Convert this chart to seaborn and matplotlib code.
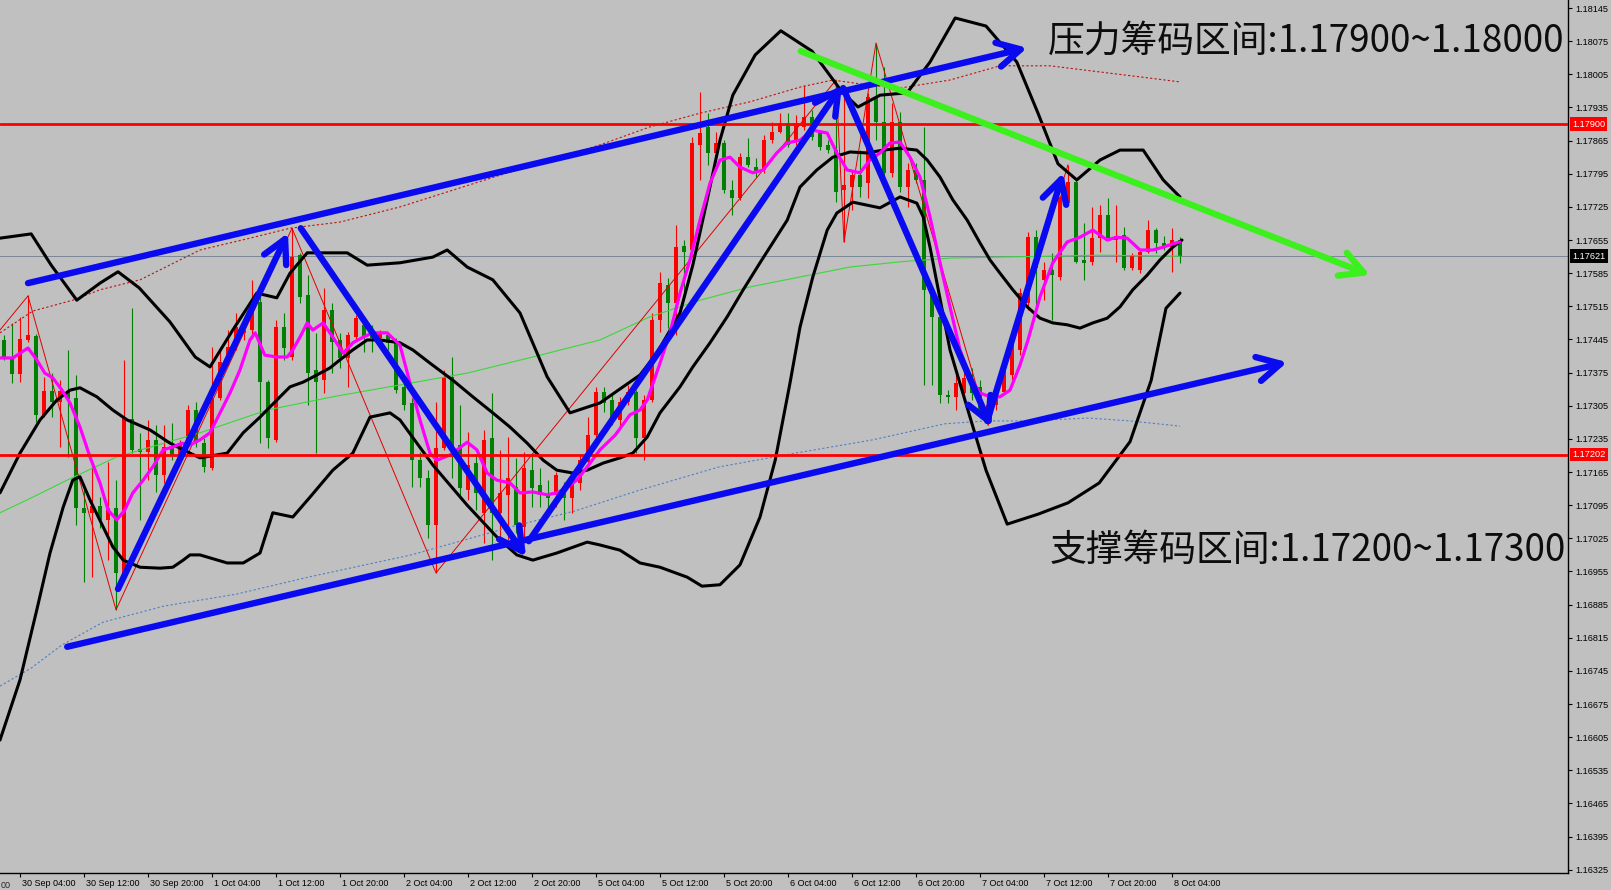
import matplotlib
matplotlib.use("Agg")
import matplotlib.pyplot as plt
import matplotlib.transforms as mtransforms
import numpy as np
import pandas as pd
import seaborn as sns

sns.set_theme(style="white")
plt.rcParams["font.family"] = ["Noto Sans CJK SC", "DejaVu Sans"]

BG = "#c0c0c0"
UP_COLOR = "#ff0000"
DOWN_COLOR = "#008000"

# hourly candles, EURUSD H1, 30 Sep 02:00 -> 8 Oct 05:00
OPEN = [
    1.17444, 1.17408, 1.17372, 1.17444, 1.17452, 1.17286, 1.17336, 1.17313, 1.17336, 1.17321,
    1.17089, 1.17079, 1.17093, 1.17064, 1.17089, 1.16952, 1.17277, 1.17214, 1.17207, 1.17233,
    1.17159, 1.17220, 1.17201, 1.17226, 1.17296, 1.17226, 1.17174, 1.17321, 1.17397, 1.17429,
    1.17459, 1.17465, 1.17524, 1.17355, 1.17233, 1.17471, 1.17408, 1.17623, 1.17539, 1.17381,
    1.17359, 1.17507, 1.17444, 1.17406, 1.17450, 1.17476, 1.17465, 1.17448, 1.17454, 1.17438,
    1.17345, 1.17311, 1.17190, 1.17152, 1.17053, 1.17216, 1.17366, 1.17222, 1.17127, 1.17184,
    1.17079, 1.17237, 1.17079, 1.17117, 1.17133, 1.17049, 1.17169, 1.17138, 1.17117, 1.17117,
    1.17121, 1.17110, 1.17142, 1.17186, 1.17243, 1.17334, 1.17317, 1.17275, 1.17313, 1.17334,
    1.17237, 1.17317, 1.17486, 1.17560, 1.17522, 1.17642, 1.17634, 1.17856, 1.17894, 1.17839,
    1.17860, 1.17761, 1.17744, 1.17830, 1.17809, 1.17803, 1.17866, 1.17883, 1.17902, 1.17866,
    1.17894, 1.17915, 1.17881, 1.17856, 1.17845, 1.17761, 1.17767, 1.17792, 1.17776, 1.17955,
    1.17904, 1.17797, 1.17904, 1.17767, 1.17803, 1.17782, 1.17550, 1.17492, 1.17328, 1.17324,
    1.17332, 1.17359, 1.17345, 1.17286, 1.17307, 1.17334, 1.17370, 1.17423, 1.17522, 1.17661,
    1.17571, 1.17592, 1.17577, 1.17733, 1.17778, 1.17613, 1.17609, 1.17659, 1.17708, 1.17655,
    1.17666, 1.17596, 1.17592, 1.17630, 1.17676, 1.17649, 1.17640, 1.17655,
]
HIGH = [
    1.17454, 1.17480, 1.17492, 1.17539, 1.17457, 1.17366, 1.17374, 1.17359, 1.17423, 1.17370,
    1.17133, 1.17180, 1.17112, 1.17186, 1.17148, 1.17402, 1.17512, 1.17248, 1.17275, 1.17264,
    1.17264, 1.17269, 1.17233, 1.17307, 1.17313, 1.17237, 1.17429, 1.17423, 1.17465, 1.17501,
    1.17490, 1.17571, 1.17543, 1.17359, 1.17486, 1.17501, 1.17680, 1.17628, 1.17581, 1.17459,
    1.17554, 1.17522, 1.17459, 1.17461, 1.17497, 1.17490, 1.17476, 1.17465, 1.17459, 1.17448,
    1.17353, 1.17321, 1.17207, 1.17169, 1.17313, 1.17381, 1.17408, 1.17307, 1.17250, 1.17201,
    1.17254, 1.17332, 1.17212, 1.17239, 1.17195, 1.17207, 1.17205, 1.17174, 1.17148, 1.17165,
    1.17144, 1.17163, 1.17201, 1.17281, 1.17345, 1.17345, 1.17332, 1.17324, 1.17349, 1.17338,
    1.17328, 1.17501, 1.17588, 1.17575, 1.17687, 1.17655, 1.17873, 1.17968, 1.17923, 1.17883,
    1.17866, 1.17782, 1.17839, 1.17871, 1.17828, 1.17877, 1.17904, 1.17923, 1.17923, 1.17919,
    1.17982, 1.17930, 1.17887, 1.17866, 1.17993, 1.17978, 1.17803, 1.17845, 1.17966, 1.18071,
    1.18020, 1.17944, 1.17925, 1.17818, 1.17818, 1.17894, 1.17554, 1.17501, 1.17338, 1.17374,
    1.17397, 1.17385, 1.17359, 1.17317, 1.17349, 1.17402, 1.17444, 1.17554, 1.17672, 1.17676,
    1.17609, 1.17628, 1.17750, 1.17814, 1.17782, 1.17691, 1.17725, 1.17729, 1.17744, 1.17729,
    1.17683, 1.17628, 1.17634, 1.17697, 1.17680, 1.17664, 1.17680, 1.17661,
]
LOW = [
    1.17402, 1.17353, 1.17355, 1.17440, 1.17271, 1.17281, 1.17281, 1.17218, 1.17197, 1.17053,
    1.16933, 1.16943, 1.17047, 1.16979, 1.16874, 1.16937, 1.17205, 1.17064, 1.17148, 1.17123,
    1.17142, 1.17190, 1.17190, 1.17218, 1.17218, 1.17165, 1.17169, 1.17317, 1.17391, 1.17423,
    1.17444, 1.17454, 1.17226, 1.17216, 1.17228, 1.17402, 1.17402, 1.17522, 1.17307, 1.17205,
    1.17332, 1.17374, 1.17385, 1.17345, 1.17444, 1.17419, 1.17419, 1.17433, 1.17423, 1.17332,
    1.17296, 1.17133, 1.17133, 1.17026, 1.16952, 1.17212, 1.17152, 1.17110, 1.17106, 1.17085,
    1.17015, 1.16979, 1.17017, 1.17022, 1.17036, 1.17028, 1.17091, 1.17091, 1.17085, 1.17091,
    1.17064, 1.17079, 1.17127, 1.17184, 1.17239, 1.17292, 1.17264, 1.17258, 1.17307, 1.17205,
    1.17190, 1.17313, 1.17461, 1.17469, 1.17454, 1.17543, 1.17630, 1.17782, 1.17814, 1.17830,
    1.17754, 1.17708, 1.17740, 1.17809, 1.17788, 1.17797, 1.17860, 1.17881, 1.17852, 1.17856,
    1.17887, 1.17866, 1.17845, 1.17839, 1.17735, 1.17651, 1.17718, 1.17746, 1.17744, 1.17866,
    1.17782, 1.17788, 1.17756, 1.17725, 1.17776, 1.17349, 1.17349, 1.17311, 1.17311, 1.17296,
    1.17317, 1.17317, 1.17279, 1.17264, 1.17296, 1.17328, 1.17359, 1.17412, 1.17507, 1.17507,
    1.17528, 1.17486, 1.17571, 1.17729, 1.17607, 1.17571, 1.17602, 1.17630, 1.17655, 1.17609,
    1.17592, 1.17592, 1.17585, 1.17628, 1.17628, 1.17634, 1.17588, 1.17607,
]
CLOSE = [
    1.17408, 1.17372, 1.17446, 1.17454, 1.17286, 1.17336, 1.17313, 1.17336, 1.17319, 1.17089,
    1.17079, 1.17093, 1.17064, 1.17089, 1.16952, 1.17279, 1.17212, 1.17207, 1.17233, 1.17159,
    1.17218, 1.17201, 1.17226, 1.17296, 1.17226, 1.17176, 1.17321, 1.17397, 1.17429, 1.17471,
    1.17469, 1.17522, 1.17355, 1.17237, 1.17471, 1.17427, 1.17619, 1.17535, 1.17374, 1.17355,
    1.17507, 1.17440, 1.17406, 1.17454, 1.17490, 1.17450, 1.17448, 1.17459, 1.17438, 1.17338,
    1.17307, 1.17190, 1.17152, 1.17053, 1.17216, 1.17366, 1.17218, 1.17131, 1.17180, 1.17121,
    1.17233, 1.17079, 1.17121, 1.17152, 1.17053, 1.17174, 1.17131, 1.17117, 1.17110, 1.17159,
    1.17110, 1.17155, 1.17190, 1.17243, 1.17334, 1.17311, 1.17275, 1.17313, 1.17334, 1.17237,
    1.17317, 1.17486, 1.17564, 1.17522, 1.17640, 1.17630, 1.17860, 1.17881, 1.17839, 1.17860,
    1.17761, 1.17744, 1.17830, 1.17814, 1.17797, 1.17866, 1.17883, 1.17902, 1.17856, 1.17902,
    1.17915, 1.17873, 1.17852, 1.17845, 1.17756, 1.17771, 1.17792, 1.17767, 1.17957, 1.17904,
    1.17797, 1.17904, 1.17767, 1.17803, 1.17782, 1.17550, 1.17492, 1.17328, 1.17324, 1.17353,
    1.17364, 1.17332, 1.17290, 1.17307, 1.17338, 1.17381, 1.17433, 1.17543, 1.17661, 1.17596,
    1.17592, 1.17581, 1.17746, 1.17778, 1.17609, 1.17607, 1.17659, 1.17708, 1.17659, 1.17664,
    1.17596, 1.17621, 1.17630, 1.17676, 1.17649, 1.17640, 1.17655, 1.17621,
]

# indicator lines (bar position, price)
BB_UP_X = [-0.5, 3.4, 5.9, 9.1, 12.0, 14.25, 16.9, 20.75, 23.9, 25.75, 28.6, 31.6, 34.1, 35.75,
           37.9, 42.9, 45.4, 49.5, 53.6, 55.4, 57.9, 61.1, 64.5, 67.9, 70.75, 74.5, 79.5, 81.6,
           84.5, 86.1, 87.9, 89.5, 91.1, 93.9, 97.1, 101.0, 104.75, 106.75, 109.5, 112.9, 115.75,
           118.9, 122.75, 126.6, 129.25, 131.75, 134.1, 137.0, 139.5, 142.4, 144.9, 147.0]
BB_UP_Y = [1.17659, 1.17668, 1.17602, 1.17528, 1.17564, 1.17588, 1.17554, 1.17482, 1.17408,
           1.17387, 1.17465, 1.17543, 1.17533, 1.17585, 1.17628, 1.17628, 1.17602, 1.17607,
           1.17619, 1.17634, 1.17598, 1.17571, 1.17501, 1.17366, 1.17290, 1.17311, 1.17370,
           1.17416, 1.17501, 1.17602, 1.17740, 1.17866, 1.17961, 1.18046, 1.18097, 1.18054,
           1.17968, 1.17936, 1.17961, 1.17966, 1.18031, 1.18124, 1.18107, 1.18031, 1.17923,
           1.17816, 1.17782, 1.17824, 1.17845, 1.17845, 1.17782, 1.17746]

BB_MID_X = [-0.5, 2.0, 4.5, 6.6, 8.25, 9.5, 11.6, 13.6, 15.4, 18.25, 20.75, 23.25, 24.5, 27.9,
            29.9, 32.0, 34.1, 35.75, 37.4, 39.1, 40.75, 42.0, 43.6, 45.4, 47.0, 49.5, 51.1, 53.25,
            56.1, 58.6, 61.1, 63.25, 65.4, 67.4, 69.1, 71.1, 72.9, 74.9, 77.0, 78.6, 80.4, 82.0,
            84.5, 86.1, 88.25, 90.4, 92.4, 94.5, 97.9, 99.5, 101.6, 103.6, 105.75, 107.9, 109.9,
            112.0, 114.1, 115.4, 117.0, 118.6, 120.4, 122.0, 123.25, 124.5, 126.1, 127.9, 129.5,
            131.1, 132.9, 134.5, 136.1, 137.9, 139.5, 141.1, 142.9, 144.5, 146.1, 147.25]
BB_MID_Y = [1.17121, 1.17205, 1.17275, 1.17317, 1.17338, 1.17343, 1.17324, 1.17296, 1.17275,
            1.17254, 1.17226, 1.17205, 1.17195, 1.17205, 1.17248, 1.17281, 1.17317, 1.17345,
            1.17355, 1.17370, 1.17385, 1.17402, 1.17423, 1.17444, 1.17444, 1.17438, 1.17423,
            1.17395, 1.17359, 1.17324, 1.17290, 1.17260, 1.17226, 1.17190, 1.17169, 1.17163,
            1.17169, 1.17184, 1.17195, 1.17205, 1.17239, 1.17290, 1.17345, 1.17387, 1.17438,
            1.17493, 1.17550, 1.17607, 1.17697, 1.17767, 1.17803, 1.17830, 1.17841, 1.17839,
            1.17845, 1.17849, 1.17845, 1.17824, 1.17788, 1.17740, 1.17697, 1.17649, 1.17613,
            1.17585, 1.17550, 1.17514, 1.17490, 1.17480, 1.17476, 1.17469, 1.17480, 1.17490,
            1.17514, 1.17550, 1.17581, 1.17613, 1.17640, 1.17655]

BB_LOW_X = [-0.5, 2.0, 4.1, 5.75, 7.4, 8.6, 9.5, 10.75, 12.4, 13.6, 14.9, 17.0, 19.5, 21.1, 22.4,
            23.25, 24.5, 27.9, 29.9, 32.0, 33.6, 36.1, 38.25, 41.1, 43.6, 45.75, 48.25, 49.5,
            53.6, 57.9, 61.6, 64.1, 66.1, 69.1, 72.9, 74.5, 77.0, 79.5, 82.0, 85.4, 87.25, 89.5,
            92.0, 94.5, 96.4, 98.25, 99.5, 101.1, 102.9, 104.1, 106.1, 109.5, 112.0, 114.1,
            114.9, 115.75, 118.25, 120.75, 122.75, 125.4, 129.25, 133.0, 136.9, 140.75, 143.4,
            145.25, 147.0]
BB_LOW_Y = [1.16599, 1.16726, 1.16874, 1.16994, 1.17091, 1.17148, 1.17155, 1.17106, 1.17049,
            1.17007, 1.16979, 1.16964, 1.16962, 1.16964, 1.16979, 1.16990, 1.16990, 1.16973,
            1.16973, 1.16994, 1.17079, 1.17070, 1.17112, 1.17169, 1.17205, 1.17281, 1.17290,
            1.17275, 1.17180, 1.17095, 1.17028, 1.16990, 1.16979, 1.16994, 1.17017, 1.17011,
            1.17000, 1.16973, 1.16964, 1.16943, 1.16924, 1.16927, 1.16969, 1.17070, 1.17190,
            1.17353, 1.17471, 1.17577, 1.17676, 1.17712, 1.17735, 1.17723, 1.17746, 1.17733,
            1.17704, 1.17640, 1.17423, 1.17281, 1.17169, 1.17055, 1.17076, 1.17100, 1.17142,
            1.17229, 1.17359, 1.17511, 1.17543]

FAST_MA_X = [-0.5, 1.1, 3.0, 4.1, 5.1, 6.1, 7.25, 8.25, 9.5, 10.75, 12.0, 13.0, 14.1, 15.1, 16.1,
             17.4, 18.6, 19.9, 21.1, 22.25, 23.25, 24.5, 25.75, 27.0, 28.25, 29.5, 30.75, 31.4,
             32.6, 34.1, 35.4, 36.1, 37.0, 37.9, 38.6, 39.9, 41.1, 42.4, 43.6, 44.9, 46.1, 47.9,
             49.5, 50.75, 52.0, 53.25, 54.1, 55.75, 57.9, 59.1, 60.4, 61.6, 63.25, 64.5, 66.1,
             67.9, 69.1, 70.4, 71.6, 72.9, 74.5, 76.4, 78.25, 79.5, 80.4, 82.0, 83.25, 84.5,
             85.75, 87.0, 88.25, 89.5, 90.75, 92.0, 93.6, 94.9, 96.6, 97.9, 99.5, 101.1, 102.9,
             104.1, 105.4, 107.0, 108.25, 109.5, 110.75, 112.0, 113.25, 114.5, 115.75, 117.0,
             118.25, 119.5, 120.75, 122.0, 123.25, 124.5, 125.75, 127.0, 128.0, 129.5, 131.1,
             132.9, 134.5, 136.1, 137.9, 139.1, 140.4, 142.0, 143.6, 144.9, 146.1, 147.0]
FAST_MA_Y = [1.17406, 1.17406, 1.17427, 1.17402, 1.17374, 1.17364, 1.17338, 1.17311, 1.17260,
             1.17197, 1.17142, 1.17085, 1.17064, 1.17085, 1.17121, 1.17148, 1.17176, 1.17212,
             1.17218, 1.17226, 1.17222, 1.17233, 1.17248, 1.17290, 1.17332, 1.17381, 1.17444,
             1.17459, 1.17412, 1.17408, 1.17408, 1.17423, 1.17450, 1.17480, 1.17465, 1.17480,
             1.17450, 1.17416, 1.17438, 1.17450, 1.17459, 1.17459, 1.17433, 1.17353, 1.17275,
             1.17205, 1.17190, 1.17201, 1.17228, 1.17212, 1.17163, 1.17148, 1.17142, 1.17121,
             1.17123, 1.17117, 1.17121, 1.17133, 1.17148, 1.17176, 1.17212, 1.17243, 1.17286,
             1.17296, 1.17317, 1.17395, 1.17459, 1.17543, 1.17613, 1.17697, 1.17775, 1.17824,
             1.17830, 1.17809, 1.17797, 1.17803, 1.17839, 1.17860, 1.17866, 1.17887, 1.17881,
             1.17839, 1.17803, 1.17797, 1.17824, 1.17839, 1.17860, 1.17862, 1.17830, 1.17788,
             1.17704, 1.17607, 1.17514, 1.17423, 1.17366, 1.17332, 1.17324, 1.17324, 1.17338,
             1.17391, 1.17444, 1.17535, 1.17607, 1.17651, 1.17661, 1.17676, 1.17655, 1.17661,
             1.17659, 1.17634, 1.17634, 1.17640, 1.17647, 1.17651]

SLOW_MA_X = [-0.5, 3.6, 7.9, 14.1, 24.5, 32.9, 41.1, 49.5, 57.9, 66.1, 74.5, 80.75, 87.0, 93.25,
             99.5, 105.75, 112.0, 118.25, 124.5, 137.0, 147.0]
SLOW_MA_Y = [1.17079, 1.17112, 1.17148, 1.17197, 1.17248, 1.17296, 1.17324, 1.17349, 1.17374,
             1.17408, 1.17444, 1.17493, 1.17528, 1.17556, 1.17577, 1.17598, 1.17609, 1.17617,
             1.17619, 1.17623, 1.17621]

ENV_UP_X = [-0.5, 3.6, 8.6, 12.0, 17.0, 24.5, 30.75, 35.75, 42.0, 49.5, 62.0, 74.5, 80.75, 87.0,
            93.25, 99.5, 103.6, 108.25, 112.0, 118.25, 124.5, 130.75, 137.0, 143.25, 147.0]
ENV_UP_Y = [1.17459, 1.17505, 1.17528, 1.17550, 1.17571, 1.17634, 1.17659, 1.17680, 1.17693,
            1.17725, 1.17792, 1.17856, 1.17894, 1.17923, 1.17947, 1.17978, 1.17993, 1.17982,
            1.17976, 1.17993, 1.18023, 1.18023, 1.18010, 1.17997, 1.17989]

ENV_LOW_X = [-0.5, 3.4, 7.25, 12.4, 20.0, 29.0, 38.0, 50.9, 63.75, 71.4, 79.1, 89.4, 99.6, 108.6,
             117.6, 122.75, 127.9, 135.6, 140.75, 147.0]
ENV_LOW_Y = [1.16713, 1.16751, 1.16800, 1.16848, 1.16882, 1.16907, 1.16943, 1.16990, 1.17051,
             1.17083, 1.17125, 1.17176, 1.17207, 1.17233, 1.17267, 1.17273, 1.17273, 1.17279,
             1.17273, 1.17262]

ZIGZAG_X = [-0.5, 3.0, 14.0, 36.0, 54.0, 104.0, 105.0, 109.0, 123.0, 133.0]
ZIGZAG_Y = [1.17465, 1.17537, 1.16874, 1.17680, 1.16952, 1.17993, 1.17651, 1.18071, 1.17264, 1.17814]

RESIST_LEVEL = 1.17900
SUPPORT_LEVEL = 1.17202
LAST_PRICE = 1.17621

# hand-drawn arrows: (tail bar, tail price, head bar, head price)
BLUE_ARROWS = [
    (3.0, 1.17564, 127.9, 1.18061),
    (7.9, 1.16796, 160.4, 1.17397),
    (14.25, 1.16918, 35.5, 1.17670),
    (37.1, 1.17680, 65.25, 1.16986),
    (65.6, 1.17019, 104.75, 1.17982),
    (104.9, 1.17976, 123.4, 1.17260),
    (122.9, 1.17273, 132.4, 1.17797),
]
GREEN_ARROW = (99.6, 1.18054, 170.75, 1.17581)

Y_TICKS = [round(1.18145 - 0.0007 * k, 5) for k in range(27)]
X_TICK_BARS = [2 + 8 * k for k in range(19)]
X_TICK_LABELS = [
    "30 Sep 04:00", "30 Sep 12:00", "30 Sep 20:00", "1 Oct 04:00", "1 Oct 12:00",
    "1 Oct 20:00", "2 Oct 04:00", "2 Oct 12:00", "2 Oct 20:00", "5 Oct 04:00",
    "5 Oct 12:00", "5 Oct 20:00", "6 Oct 04:00", "6 Oct 12:00", "6 Oct 20:00",
    "7 Oct 04:00", "7 Oct 12:00", "7 Oct 20:00", "8 Oct 04:00",
]

W, H = 1611, 890
fig = plt.figure(figsize=(W / 100, H / 100), dpi=100, facecolor=BG)
ax = fig.add_axes([0, 17 / H, 1568 / W, 873 / H], facecolor=BG)

df = pd.DataFrame({"bar": np.arange(len(OPEN)), "open": OPEN, "high": HIGH,
                   "low": LOW, "close": CLOSE})
df["rise"] = df["close"] >= df["open"]

for rise, color in [(True, UP_COLOR), (False, DOWN_COLOR)]:
    sub = df[df["rise"] == rise]
    ax.vlines(sub["bar"], sub["low"], sub["high"], color=color, lw=0.8, zorder=2)
    body = (sub["close"] - sub["open"]).abs().clip(lower=0.00002)
    ax.bar(sub["bar"], body, bottom=sub[["open", "close"]].min(axis=1),
           width=0.62, color=color, lw=0, zorder=3)


def line(xs, ys, color, lw, z, ls="-"):
    sns.lineplot(x=xs, y=ys, ax=ax, color=color, lw=lw, linestyle=ls, sort=False,
                 estimator=None, zorder=z, legend=False)


ax.axhline(LAST_PRICE, color="#7a8796", lw=0.7, zorder=1.5)
line(SLOW_MA_X, SLOW_MA_Y, "#3ad83a", 0.8, 4)
line(ENV_UP_X, ENV_UP_Y, "#c01010", 0.8, 4, (0, (2, 2)))
line(ENV_LOW_X, ENV_LOW_Y, "#4f7fc8", 0.8, 4, (0, (2, 2)))
line(ZIGZAG_X, ZIGZAG_Y, "#e00000", 0.7, 4)
for xs, ys in [(BB_UP_X, BB_UP_Y), (BB_MID_X, BB_MID_Y), (BB_LOW_X, BB_LOW_Y)]:
    line(xs, ys, "black", 2.2, 5)
line(FAST_MA_X, FAST_MA_Y, "#ff00ff", 2.3, 6)

ax.axhline(RESIST_LEVEL, color="#ff0000", lw=2.0, zorder=7)
ax.axhline(SUPPORT_LEVEL, color="#ff0000", lw=2.0, zorder=7)

arrow_style = "->,head_length=0.75,head_width=0.4"
for x0, y0, x1, y1 in BLUE_ARROWS:
    ax.annotate("", xy=(x1, y1), xytext=(x0, y0),
                arrowprops=dict(arrowstyle=arrow_style, color="#0a0af0", lw=4.6,
                                shrinkA=0, shrinkB=0, mutation_scale=22),
                zorder=8, annotation_clip=False)
gx0, gy0, gx1, gy1 = GREEN_ARROW
ax.annotate("", xy=(gx1, gy1), xytext=(gx0, gy0),
            arrowprops=dict(arrowstyle=arrow_style, color="#3cf01e", lw=4.6,
                            shrinkA=0, shrinkB=0, mutation_scale=22),
            zorder=8, annotation_clip=False)

ax.set_xlim(-0.5, 195.5)
ax.set_ylim(1.163182, 1.18162)

# axes / ticks like the terminal
for side in ["top", "left"]:
    ax.spines[side].set_visible(False)
for side in ["right", "bottom"]:
    ax.spines[side].set_color("black")
    ax.spines[side].set_linewidth(1.0)

ax.yaxis.tick_right()
ax.set_yticks(Y_TICKS)
ax.set_yticklabels([f"{v:.5f}" for v in Y_TICKS])
ax.tick_params(axis="y", direction="out", length=3, width=0.8, pad=2,
               labelsize=6.6, colors="black", right=True, left=False)
ax.set_xticks(X_TICK_BARS)
ax.set_xticklabels(X_TICK_LABELS)
ax.tick_params(axis="x", direction="out", length=3, width=0.8, pad=1.5,
               labelsize=6.5, colors="black", bottom=True)
shift = mtransforms.ScaledTranslation(2 / 100, 0, fig.dpi_scale_trans)
for lbl in ax.get_xticklabels():
    lbl.set_ha("left")
    lbl.set_fontfamily("Liberation Sans")
    lbl.set_transform(lbl.get_transform() + shift)
for lbl in ax.get_yticklabels():
    lbl.set_fontfamily("Liberation Sans")
ax.grid(False)
ax.set_xlabel("")
ax.set_ylabel("")

# tail of the previous time label, visible at the left edge
ax.text(0.0005, -0.0095, "00", transform=ax.transAxes, fontsize=6.5,
        family="Liberation Sans", ha="left", va="top", clip_on=False)

# price boxes on the right scale
blend = mtransforms.blended_transform_factory(ax.transAxes, ax.transData)
for price, face in [(RESIST_LEVEL, "#ff0000"), (SUPPORT_LEVEL, "#ff0000"), (LAST_PRICE, "#000000")]:
    ax.text(1.0 + 4 / 1568, price, f"{price:.5f}", transform=blend, fontsize=6.6,
            family="Liberation Sans", color="white", ha="left", va="center", zorder=10,
            clip_on=False, bbox=dict(boxstyle="square,pad=0.25", fc=face, ec="none"))

fig.text(1048 / W, 1 - 41 / H, "压力筹码区间:1.17900~1.18000", fontsize=26.5,
         family=["Noto Sans CJK SC", "DejaVu Sans"], color="#0d0d0d", ha="left", va="center")
fig.text(1050 / W, 1 - 550 / H, "支撑筹码区间:1.17200~1.17300", fontsize=26.5,
         family=["Noto Sans CJK SC", "DejaVu Sans"], color="#0d0d0d", ha="left", va="center")

fig.savefig("out.png", dpi=100, facecolor=BG)
